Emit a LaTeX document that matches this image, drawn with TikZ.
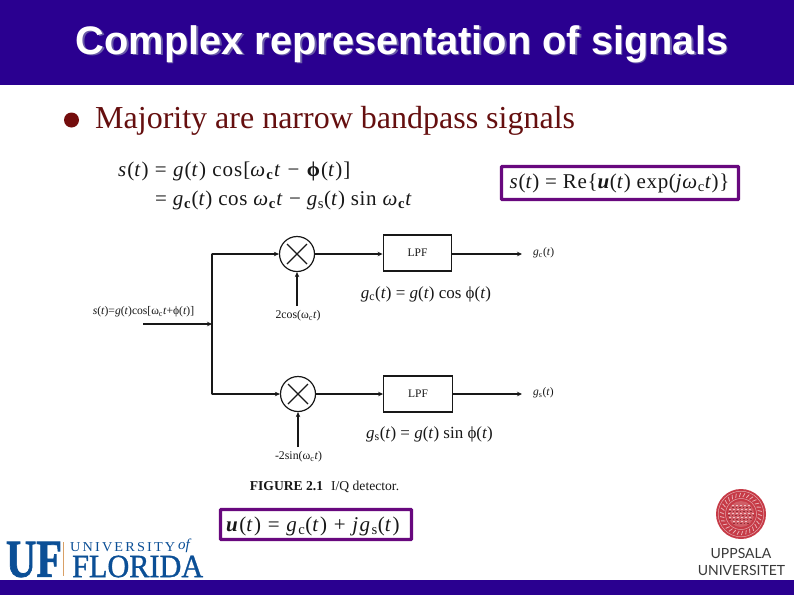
\documentclass[tikz,border=0pt]{standalone}
\usepackage{fontspec}
\setmainfont{Liberation Serif}
\newfontfamily\arialfont{Liberation Sans}
\newfontfamily\latofont{Lato}
\usetikzlibrary{arrows.meta,calc}
\newcommand{\fsz}[1]{\fontsize{#1}{#1}\selectfont}
\newcommand{\ti}[1]{\textit{#1}}
\newcommand{\sbb}[1]{\textsubscript{\textbf{#1}}}
\newcommand{\om}{\textit{ω}}
\definecolor{band}{HTML}{2A0090}
\definecolor{shade}{HTML}{6A5CA8}
\definecolor{boxp}{HTML}{68087E}
\definecolor{ufblue}{HTML}{0B4F96}
\definecolor{ufor}{HTML}{D9A066}
\definecolor{seal}{HTML}{C63A46}
\definecolor{ink}{HTML}{181818}
\definecolor{headred}{HTML}{650F0F}
\tikzset{
  lbl/.style={inner sep=0pt,text=ink},
  eqn/.style={lbl,anchor=base west,font=\fsz{21}\addfontfeature{LetterSpace=3}},
  eqsm/.style={lbl,anchor=base,font=\fsz{17}},
  smalllbl/.style={lbl,font=\fsz{11.8}},
  mixer/.style={circle,draw=ink,line width=1.2pt,minimum size=35pt,inner sep=0pt},
  lpf/.style={rectangle,draw=ink,line width=1.4pt,minimum width=68.5pt,minimum height=36pt,inner sep=0pt,font=\fsz{11.5},text=ink},
  wire/.style={draw=ink,line width=1.25pt},
  arr/.style={wire,-{Stealth[length=5pt,width=4.5pt]}},
  pbox/.style={draw=boxp,line width=3.4pt,fill=white,rounded corners=0.8pt},
}
\begin{document}
\begin{tikzpicture}[x=1pt,y=-1pt]
\useasboundingbox (0,0) rectangle (794,595);
\fill[white] (0,0) rectangle (794,595);
\fill[band] (0,0) rectangle (794,85);
\fill[band] (0,580) rectangle (794,595);
% title
\node[inner sep=0pt,text=shade,font=\arialfont\bfseries\fsz{39.8}] at (403.5,45.5) {Complex representation of signals};
\node[inner sep=0pt,text=white,font=\arialfont\bfseries\fsz{39.8}] (title) at (402,44) {Complex representation of signals};
% bullet
\node[circle,fill=headred!90!red,minimum size=15pt,inner sep=0pt] (bul) at (71.5,120) {};
\node[lbl,anchor=base west,text=headred,font=\fsz{32}] (head) at (95,128.5) {Majority are narrow bandpass signals};
% equations
\node[eqn,font=\fsz{21}\addfontfeature{LetterSpace=5}] (eq1) at (118,176.5) {\ti{s}(\ti{t}) = \ti{g}(\ti{t}) cos[\om\sbb{c}\ti{t} − \textbf{ϕ}(\ti{t})]};
\node[eqn] (eq2) at (155,205) {= \ti{g}\sbb{c}(\ti{t}) cos \om\sbb{c}\ti{t} − \ti{g}\textsubscript{s}(\ti{t}) sin \om\sbb{c}\ti{t}};
\draw[pbox] (501.5,166.5) rectangle (738.5,199.5);
\node[eqn] (eq3) at (509.5,188) {\ti{s}(\ti{t}) = Re\{\textit{\textbf{u}}(\ti{t}) exp(\ti{j}\om\textsubscript{c}\ti{t})\}};
\draw[pbox] (220.5,509.5) rectangle (411.5,539.5);
\node[eqn,font=\fsz{21}\addfontfeature{LetterSpace=7}] (eq4) at (226,531.5) {\textit{\textbf{u}}(\ti{t}) = \ti{g}\textsubscript{c}(\ti{t}) + \ti{jg}\textsubscript{s}(\ti{t})};
% block diagram
\node[mixer] (m1) at (297,254) {};
\node[mixer] (m2) at (298,394) {};
\foreach \m in {m1,m2}{
  \draw[wire] ($(\m)+(-10,-10)$) -- ($(\m)+(10,10)$);
  \draw[wire] ($(\m)+(10,-10)$) -- ($(\m)+(-10,10)$);
}
\node[lpf] (f1) at (417.5,253) {LPF};
\node[lpf] (f2) at (418,394) {LPF};
\coordinate (jt) at (212,254);
\coordinate (jb) at (212,394);
\coordinate (jm) at (212,324);
\coordinate (in) at (143,324);
\coordinate (o1) at (522,254);
\coordinate (o2) at (522,394);
\coordinate (c1) at (297,306);
\coordinate (c2) at (298,447);
\draw[wire,line cap=round] (jt) -- (jb);
\draw[arr] (jt) -- (m1);
\draw[arr] (jb) -- (m2);
\draw[arr] (in) -- (jm);
\draw[arr] (m1) -- (f1.west |- m1);
\draw[arr] (m2) -- (f2);
\draw[arr] (f1.east |- o1) -- (o1);
\draw[arr] (f2) -- (o2);
\draw[arr] (c1) -- (m1);
\draw[arr] (c2) -- (m2);
% labels
\node[smalllbl,font=\fsz{11.6}] (linp) at (143.5,312) {\ti{s}(\ti{t})=\ti{g}(\ti{t})cos[ω\textsubscript{c}\ti{t}+ϕ(\ti{t})]};
\node[smalllbl] (lc1) at (298,315.5) {2cos(ω\textsubscript{c}\ti{t})};
\node[smalllbl] (lc2) at (298.5,456.5) {-2sin(ω\textsubscript{c}\ti{t})};
\node[smalllbl,anchor=west,font=\fsz{11.5}] (lo1) at (533,252.5) {\ti{g}\textsubscript{c}(\ti{t})};
\node[smalllbl,anchor=west,font=\fsz{11.5}] (lo2) at (533,393) {\ti{g}\textsubscript{s}(\ti{t})};
\node[eqsm] (lg1) at (426,298) {\ti{g}\textsubscript{c}(\ti{t}) = \ti{g}(\ti{t}) cos ϕ(\ti{t})};
\node[eqsm] (lg2) at (429.5,438) {\ti{g}\textsubscript{s}(\ti{t}) = \ti{g}(\ti{t}) sin ϕ(\ti{t})};
\node[lbl,font=\fsz{13.6}] (cap) at (324.5,487) {\textbf{FIGURE 2.1}\hspace{8pt}I/Q detector.};
% UF logo
\node[inner sep=0pt,text=ufblue] (ufm) at (34,559.5) {\resizebox{56pt}{35pt}{\addfontfeature{FakeBold=1.5}\textbf{UF}}};
\fill[ufor] (62.6,542) rectangle (64.4,576);
\node[inner sep=0pt,text=ufblue,anchor=west] (ufa) at (70,547.5) {\resizebox{105pt}{9pt}{\addfontfeature{LetterSpace=15}UNIVERSITY}};
\node[inner sep=0pt,text=ufblue,anchor=west,font=\itshape\fsz{15}] (ufb) at (178,546) {of};
\node[inner sep=0pt,text=ufblue,anchor=west] (ufc) at (72,566.5) {\resizebox{131pt}{21.5pt}{\addfontfeature{FakeBold=1}FLORIDA}};
% Uppsala seal
\fill[seal] (741,514) circle (25);
\draw[white!55!seal,line width=.5pt] (741,514) circle (22.8);
\draw[white!55!seal,line width=.5pt] (741,514) circle (15.5);
\foreach \a in {0,12,...,348}{
  \draw[white!60!seal,line width=.8pt] ($(741,514)+(\a:17)$) -- ($(741,514)+(\a+5:21)$);
}
\fill[white!18!seal] (741,514) circle (13);
\foreach \yy/\w in {505/9,509/12,513/13,517/12,521/8}{
  \draw[white!70!seal,line width=.8pt,dash pattern=on 2pt off 2pt] (741-\w,\yy) -- (741+\w,\yy);
  \draw[seal!75!black,line width=.8pt,dash pattern=on 1.5pt off 2pt] (741-\w,\yy+2) -- (741+\w,\yy+2);
}
\node[inner sep=0pt,text=black!78,font=\latofont\fsz{14}] (upa) at (741,553) {UPPSALA};
\node[inner sep=0pt,text=black!78,font=\latofont\fsz{14}] (upb) at (741.5,570) {UNIVERSITET};
\end{tikzpicture}
\end{document}
